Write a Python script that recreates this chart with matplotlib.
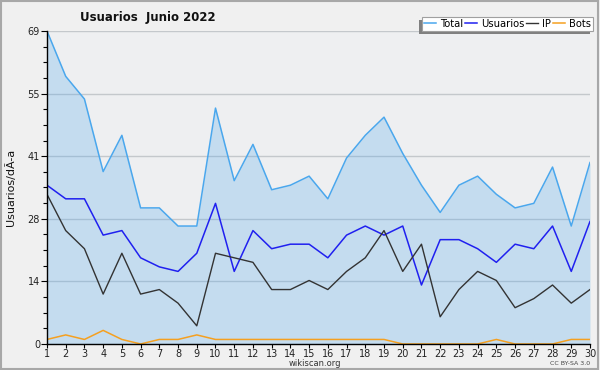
import numpy as np
import matplotlib
matplotlib.use("Agg")
import matplotlib.pyplot as plt
from matplotlib.patches import Rectangle
from matplotlib.transforms import IdentityTransform
from matplotlib.ticker import MultipleLocator

# datos
dias = list(range(1, 31))
total = [69, 59, 54, 38, 46, 30, 30, 26, 26, 52, 36, 44, 34, 35, 37,
         32, 41, 46, 50, 42, 35, 29, 35, 37, 33, 30, 31, 39, 26, 40]
usuarios = [35, 32, 32, 24, 25, 19, 17, 16, 20, 31, 16, 25, 21, 22, 22,
            19, 24, 26, 24, 26, 13, 23, 23, 21, 18, 22, 21, 26, 16, 27]
ip = [33, 25, 21, 11, 20, 11, 12, 9, 4, 20, 19, 18, 12, 12, 14,
      12, 16, 19, 25, 16, 22, 6, 12, 16, 14, 8, 10, 13, 9, 12]
bots = [1, 2, 1, 3, 1, 0, 1, 1, 2, 1, 1, 1, 1, 1, 1,
        1, 1, 1, 1, 0, 0, 0, 0, 0, 1, 0, 0, 0, 1, 1]
ymax = 69
ytick_labels = ["0", "14", "28", "41", "55", "69"]

c_total = "#4aa7ed"
c_usu = "#2020f0"
c_ip = "#333333"
c_bots = "#f5a020"

fig = plt.figure(figsize=(6, 3.7), dpi=100, facecolor="#f0f0f0")
fig.patches.append(Rectangle((0.002, 0.003), 0.995, 0.994, transform=fig.transFigure,
                             fill=False, edgecolor="#a8a8a8", lw=1.5))
ax = fig.add_axes([0.0783, 0.0703, 0.905, 0.846])
ax.set_facecolor("#eeeff1")

ax.fill_between(dias, total, 0, color=c_total, alpha=0.25, lw=0, zorder=2)
ax.plot(dias, total, color=c_total, lw=1.1, zorder=3, label="Total")
ax.plot(dias, usuarios, color=c_usu, lw=1.1, zorder=3, label="Usuarios")
ax.plot(dias, ip, color=c_ip, lw=1.0, zorder=3, label="IP")
ax.plot(dias, bots, color=c_bots, lw=1.1, zorder=3, label="Bots")

ax.set_xlim(1, 30)
ax.set_ylim(0, ymax)
ax.set_yticks(np.linspace(0, ymax, 6))
ax.set_yticklabels(ytick_labels)
ax.yaxis.set_minor_locator(MultipleLocator(ymax / 20))
ax.set_xticks(dias)
ax.grid(axis="y", color="#c4c8cc", lw=1, zorder=1)
ax.set_axisbelow(True)

for s in ["top", "right"]:
    ax.spines[s].set_visible(False)
for s in ["left", "bottom"]:
    ax.spines[s].set_color("black")
    ax.spines[s].set_linewidth(1)
    ax.spines[s].set_zorder(4)

ax.tick_params(axis="y", which="major", length=4, width=0.8, labelsize=7,
               pad=1, labelcolor="#222222")
ax.tick_params(axis="x", which="major", length=3, width=0.8, labelsize=7,
               pad=0.5, labelcolor="#222222")
ax.tick_params(axis="y", which="minor", length=3, width=0.8)

ax.set_ylabel("Usuarios/dÃ-a", fontsize=8, labelpad=8, color="#111111")
fig.text(0.247, 0.952, "Usuarios  Junio 2022", fontsize=8.5, fontweight="bold",
         ha="center", va="center", color="#111111")
fig.text(0.525, 0.017, "wikiscan.org", fontsize=6, ha="center", va="center",
         color="#333333")
fig.text(0.983, 0.017, "CC BY-SA 3.0", fontsize=4.5, ha="right", va="center",
         color="#444444")

leg = ax.legend(loc="upper right", ncol=4, fontsize=7.2, frameon=True,
                bbox_to_anchor=(1.015, 1.062), handlelength=1.2,
                handletextpad=0.4, columnspacing=0.2, borderpad=0.2,
                fancybox=False, framealpha=1)
leg.get_frame().set_edgecolor("#a0a0a0")
leg.get_frame().set_linewidth(0.8)
leg.set_zorder(10)

# sombra del cuadro de leyenda (abajo a la izquierda)
fig.canvas.draw()
bb = leg.get_window_extent()
ax.add_patch(Rectangle((bb.x0 - 3, bb.y0 - 3), bb.width, bb.height,
                       transform=IdentityTransform(), facecolor="#808080",
                       edgecolor="none", clip_on=False, zorder=9))

fig.savefig("out.png", dpi=100, facecolor=fig.get_facecolor())
